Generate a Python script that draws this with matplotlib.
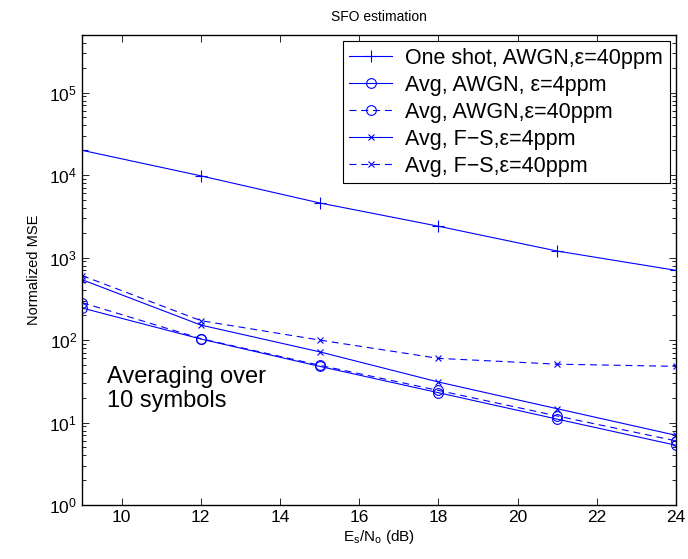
"""
SFO estimation: normalized MSE against Es/No for one-shot and averaged estimators.
Saves out.png (688x559).
"""

import matplotlib
matplotlib.use("Agg")
import matplotlib.pyplot as plt

plt.rcParams["font.family"] = ["Liberation Sans", "DejaVu Sans"]
plt.rcParams["lines.scale_dashes"] = False

snr_db = [9, 12, 15, 18, 21, 24]

one_shot_awgn_40 = [2.0e4, 9.8e3, 4.6e3, 2.4e3, 1.2e3, 700]
avg_awgn_4 = [245, 103, 48, 23, 11, 5.3]
avg_awgn_40 = [285, 104, 49.5, 24.5, 12, 6.0]
avg_fs_4 = [540, 152, 72, 31, 14.7, 7.0]
avg_fs_40 = [605, 172, 100, 60, 51, 48]

labels = [
    "One shot, AWGN,ε=40ppm",
    "Avg, AWGN, ε=4ppm",
    "Avg, AWGN,ε=40ppm",
    "Avg, F\u2212S,ε=4ppm",
    "Avg, F\u2212S,ε=40ppm",
]

BLUE = "#0000ff"
DASH = (5, 3.5)

fig = plt.figure(figsize=(6.88, 5.59), dpi=100)
ax = fig.add_axes([82 / 688, 54 / 559, 594 / 688, 470 / 559])

common = dict(color=BLUE, linewidth=0.8, markerfacecolor="none", markeredgewidth=0.8)
ax.plot(snr_db, one_shot_awgn_40, marker="+", markersize=8, label=labels[0], **common)
ax.plot(snr_db, avg_awgn_4, marker="o", markersize=7, label=labels[1], **common)
ax.plot(snr_db, avg_awgn_40, marker="o", markersize=7, linestyle="--", dashes=DASH,
        label=labels[2], **common)
ax.plot(snr_db, avg_fs_4, marker="x", markersize=5, label=labels[3], **common)
ax.plot(snr_db, avg_fs_40, marker="x", markersize=5, linestyle="--", dashes=DASH,
        label=labels[4], **common)

ax.set_yscale("log")
ax.set_xlim(9, 24)
ax.set_ylim(1, 5e5)
ax.set_xticks([10, 12, 14, 16, 18, 20, 22, 24])
ax.set_yticks([1e0, 1e1, 1e2, 1e3, 1e4, 1e5])
ax.tick_params(which="both", direction="in", top=True, right=True, labelsize=12.5,
               width=0.6, colors="black")
ax.tick_params(which="major", length=5)
ax.tick_params(which="minor", length=3)
for s in ax.spines.values():
    s.set_linewidth(1.0)

ax.set_title("SFO estimation", fontsize=10, pad=10)
ax.set_ylabel("Normalized MSE", fontsize=10.5, labelpad=6)
ax.set_xlabel(r"$\mathregular{E_s/N_o}$ (dB)", fontsize=11, labelpad=2)

ax.text(0.042, 0.247, "Averaging over\n10 symbols", transform=ax.transAxes,
        fontsize=17, va="center", ha="left", linespacing=1.15)

leg = ax.legend(loc="upper right", fontsize=15.5, fancybox=False, framealpha=1,
                edgecolor="black", borderaxespad=0.3, handlelength=2.0,
                handletextpad=0.6, labelspacing=0.28, borderpad=0.3)
leg.get_frame().set_linewidth(0.8)

fig.savefig("out.png", dpi=100)
